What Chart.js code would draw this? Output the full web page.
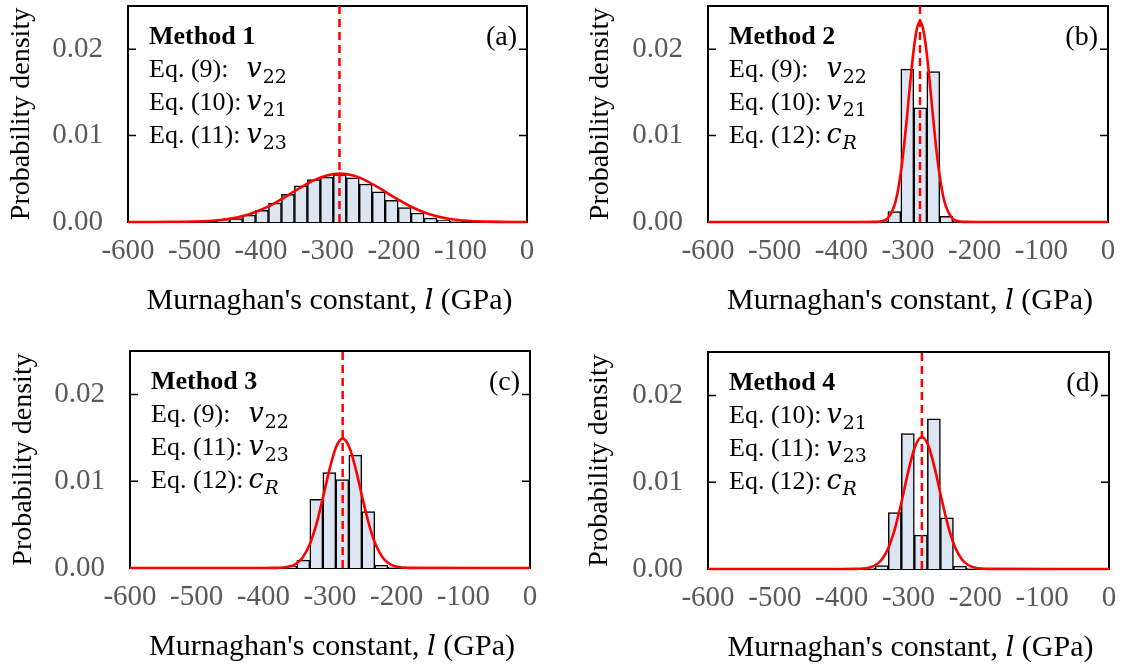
<!DOCTYPE html>
<html>
<head>
<meta charset="utf-8">
<script src="https://cdn.jsdelivr.net/npm/chart.js@4.4.1/dist/chart.umd.min.js"></script>
<style>
  html, body { margin: 0; padding: 0; background: #fff; }
  #wrap { position: relative; width: 1122px; height: 664px; overflow: hidden; }
  #wrap canvas { position: absolute; }
</style>
</head>
<body>
<div id="wrap">
  <canvas id="panelA" width="561" height="332" style="left:0;top:0"></canvas>
  <canvas id="panelB" width="561" height="332" style="left:561px;top:0"></canvas>
  <canvas id="panelC" width="561" height="332" style="left:0;top:332px"></canvas>
  <canvas id="panelD" width="561" height="332" style="left:561px;top:332px"></canvas>
</div>
<script>
/* ===== DATA ===== */
// histogram bin centres (GPa), shared by the four panels
const binCenters = [-457, -437.5, -418, -398.5, -379, -359.5, -340, -320.5, -301, -281.5,
                    -262, -242.5, -223, -203.5, -184, -164.5, -145, -125.5, -106];

// probability density of each bin
const method1Bars = [0.00015, 0.0004, 0.0008, 0.00135, 0.0022, 0.0032, 0.0042, 0.0049, 0.0052, 0.0055,
                     0.0051, 0.0044, 0.0035, 0.0025, 0.00166, 0.00104, 0.00046, 0.0002, 0.0001];
const method2Bars = [0, 0, 0, 0, 0, 0.00005, 0.0001, 0.0012, 0.0177, 0.0132,
                     0.0174, 0.00066, 0.0001, 0.00005, 0, 0, 0, 0, 0];
const method3Bars = [0, 0, 0, 0, 0.0001, 0.0002, 0.0009, 0.0079, 0.011, 0.0102,
                     0.013, 0.0065, 0.0003, 0.0001, 0.00005, 0, 0, 0, 0];
const method4Bars = [0, 0, 0, 0, 0, 0.0001, 0.0004, 0.0065, 0.0156, 0.0039,
                     0.0173, 0.0059, 0.0003, 0.0001, 0, 0, 0, 0, 0];

// fitted density curves
const curveXa = [-600, -500, -450, -420, -400, -380, -360, -340, -320, -300, -282,
                 -260, -240, -220, -200, -180, -160, -140, -120, -100, -60, 0];
const curveYa = [0, 0.00005, 0.00034, 0.00085, 0.00141, 0.00216, 0.00306, 0.00401, 0.00485, 0.00542, 0.0056,
                 0.00534, 0.0047, 0.00383, 0.00287, 0.002, 0.00128, 0.00076, 0.00041, 0.00021, 0.00004, 0];

const curveXb = [-600, -380, -350, -340, -330, -320, -315, -310, -305, -300, -295, -290, -286, -282,
                 -278, -274, -269, -264, -259, -254, -249, -244, -234, -224, -214, -184, 0];
const curveYb = [0, 0, 0.00001, 0.00008, 0.00047, 0.00202, 0.00368, 0.00617, 0.00949, 0.01342, 0.01744, 0.02083, 0.02257, 0.0232,
                 0.02257, 0.02083, 0.01744, 0.01342, 0.00949, 0.00617, 0.00368, 0.00202, 0.00047, 0.00008, 0.00001, 0, 0];

const curveXc = [-600, -401, -381, -361, -351, -341, -331, -321, -311, -301, -291, -281,
                 -271, -261, -251, -241, -231, -221, -211, -201, -181, 0];
const curveYc = [0, 0, 0.00001, 0.00017, 0.00049, 0.00121, 0.00261, 0.00489, 0.00796, 0.01128, 0.0139, 0.0149,
                 0.0139, 0.01128, 0.00796, 0.00489, 0.00261, 0.00121, 0.00049, 0.00017, 0.00001, 0];

const curveXd = [-600, -400, -380, -360, -350, -340, -330, -320, -310, -300, -290, -280,
                 -270, -260, -250, -240, -230, -220, -210, -200, -180, 0];
const curveYd = [0, 0, 0.00001, 0.00014, 0.00043, 0.0011, 0.00246, 0.00474, 0.00789, 0.01136, 0.01413, 0.0152,
                 0.01413, 0.01136, 0.00789, 0.00474, 0.00246, 0.0011, 0.00043, 0.00014, 0.00001, 0];

// mean of each distribution (dashed line)
const meanValues = [-282, -282, -281, -280];

const xMin = -600, xMax = 0, xStep = 100;
const yMin = 0, yMax = 0.025, yStep = 0.01;

const methodNames = ["Method 1", "Method 2", "Method 3", "Method 4"];
const panelTags = ["(a)", "(b)", "(c)", "(d)"];
const eqLinesA = [["Eq. (9):", "v", "22"], ["Eq. (10):", "v", "21"], ["Eq. (11):", "v", "23"]];
const eqLinesB = [["Eq. (9):", "v", "22"], ["Eq. (10):", "v", "21"], ["Eq. (12):", "c", "R", true]];
const eqLinesC = [["Eq. (9):", "v", "22"], ["Eq. (11):", "v", "23"], ["Eq. (12):", "c", "R", true]];
const eqLinesD = [["Eq. (10):", "v", "21"], ["Eq. (11):", "v", "23"], ["Eq. (12):", "c", "R", true]];

/* ===== STYLE ===== */
const SERIF = "'Liberation Serif', 'Times New Roman', serif";
const MATH = "'DejaVu Serif', serif";
const TICK_GREY = "#595959";
const BAR_FILL = "#dce5f2";
const RED = "#ff0000";

/* ===== FRAME, INWARD TICKS, LABELS ===== */
const panelDeco = {
  id: "panelDeco",
  beforeDatasetsDraw(chart) {
    const { ctx, chartArea: a, scales: { y } } = chart;
    ctx.save();
    ctx.strokeStyle = "#000";
    ctx.lineWidth = 2;
    ctx.strokeRect(a.left, a.top, a.right - a.left, a.bottom - a.top);
    ctx.lineWidth = 1.5;
    ctx.beginPath();
    y.ticks.forEach(t => {
      const py = y.getPixelForValue(t.value);
      ctx.moveTo(a.left, py); ctx.lineTo(a.left + 8, py);
      ctx.moveTo(a.right, py); ctx.lineTo(a.right - 8, py);
    });
    ctx.stroke();
    ctx.restore();
  },
  afterDraw(chart, args, o) {
    const { ctx, chartArea: a } = chart;
    ctx.save();
    ctx.fillStyle = "#000";
    ctx.textBaseline = "alphabetic";

    const tx = a.left + 21;
    ctx.textAlign = "left";
    ctx.font = "bold 26px " + SERIF;
    ctx.fillText(o.method, tx, a.top + 38);

    ctx.textAlign = "right";
    ctx.font = "28px " + SERIF;
    ctx.fillText(o.tag, a.right - 10, a.top + 39);

    ctx.textAlign = "left";
    ctx.font = "26px " + SERIF;
    const mx = tx + ctx.measureText("Eq. (10):").width + 5;
    o.eqs.forEach((e, i) => {
      const by = a.top + 71 + i * 33;
      ctx.font = "26px " + SERIF;
      ctx.fillText(e[0], tx, by);
      ctx.font = "italic 27px " + MATH;
      ctx.fillText(e[1], mx, by);
      const w = ctx.measureText(e[1]).width;
      ctx.font = (e[3] ? "italic " : "") + "19px " + MATH;
      ctx.fillText(e[2], mx + w + 1, by + 6);
    });

    // x axis title with italic l
    const parts = [["Murnaghan's constant, ", "30px " + SERIF],
                   ["l", "italic 28px " + MATH],
                   [" (GPa)", "30px " + SERIF]];
    let total = 0;
    parts.forEach(p => { ctx.font = p[1]; total += ctx.measureText(p[0]).width; });
    let x = (a.left + a.right) / 2 - total / 2 + 2;
    const by = a.bottom + 87;
    parts.forEach(p => {
      ctx.font = p[1];
      ctx.fillText(p[0], x, by);
      x += ctx.measureText(p[0]).width;
    });
    ctx.restore();
  }
};

/* ===== PANELS ===== */
function makePanel(canvasId, box, yTitlePad, bars, cx, cy, mean, method, eqs, tag) {
  const canvas = document.getElementById(canvasId);
  const W = canvas.width, H = canvas.height;

  new Chart(canvas, {
    type: "bar",
    data: {
      datasets: [
        {
          type: "line",
          data: [{ x: mean, y: yMin }, { x: mean, y: yMax }],
          borderColor: RED,
          borderWidth: 2.5,
          borderDash: [8, 5],
          pointRadius: 0,
          clip: false,
          order: 0
        },
        {
          type: "line",
          data: cx.map((x, i) => ({ x, y: cy[i] })),
          borderColor: RED,
          borderWidth: 2.6,
          pointRadius: 0,
          cubicInterpolationMode: "monotone",
          clip: false,
          order: 1
        },
        {
          type: "bar",
          data: binCenters.map((x, i) => ({ x, y: bars[i] })),
          backgroundColor: BAR_FILL,
          borderColor: "#000",
          borderWidth: 1.5,
          barPercentage: 1,
          categoryPercentage: 1,
          order: 2
        }
      ]
    },
    options: {
      responsive: false,
      animation: false,
      layout: { padding: { left: 0, top: box.top, right: W - box.right, bottom: 0 } },
      plugins: {
        legend: { display: false },
        tooltip: { enabled: false },
        panelDeco: { method, eqs, tag }
      },
      scales: {
        x: {
          type: "linear",
          min: xMin,
          max: xMax,
          offset: false,
          grid: { display: false, drawTicks: false },
          border: { display: false },
          ticks: {
            stepSize: xStep,
            autoSkip: false,
            maxRotation: 0,
            padding: 12,
            color: TICK_GREY,
            font: { family: SERIF, size: 29 },
            callback: v => String(v)
          },
          afterFit: s => { s.height = H - box.bottom; s.paddingLeft = 0; s.paddingRight = 0; }
        },
        y: {
          min: yMin,
          max: yMax,
          grid: { display: false, drawTicks: false },
          border: { display: false },
          ticks: {
            stepSize: yStep,
            includeBounds: false,
            padding: 25,
            color: TICK_GREY,
            font: { family: SERIF, size: 29 },
            callback: v => Number(v).toFixed(2)
          },
          title: {
            display: true,
            text: "Probability density",
            color: "#000",
            font: { family: SERIF, size: 28 },
            padding: { top: yTitlePad, bottom: 0 }
          },
          afterFit: s => { s.width = box.left; s.paddingTop = 0; s.paddingBottom = 0; }
        }
      }
    },
    plugins: [panelDeco]
  });
}

document.addEventListener("DOMContentLoaded", () => {
  makePanel("panelA", { left: 128, top: 6, right: 527, bottom: 222 }, 5,
            method1Bars, curveXa, curveYa, meanValues[0], methodNames[0], eqLinesA, panelTags[0]);
  makePanel("panelB", { left: 147, top: 6, right: 547, bottom: 222 }, 23,
            method2Bars, curveXb, curveYb, meanValues[1], methodNames[1], eqLinesB, panelTags[1]);
  makePanel("panelC", { left: 130, top: 19, right: 530, bottom: 236 }, 7,
            method3Bars, curveXc, curveYc, meanValues[2], methodNames[2], eqLinesC, panelTags[2]);
  makePanel("panelD", { left: 147, top: 20, right: 548, bottom: 237 }, 22,
            method4Bars, curveXd, curveYd, meanValues[3], methodNames[3], eqLinesD, panelTags[3]);
});
</script>
</body>
</html>
